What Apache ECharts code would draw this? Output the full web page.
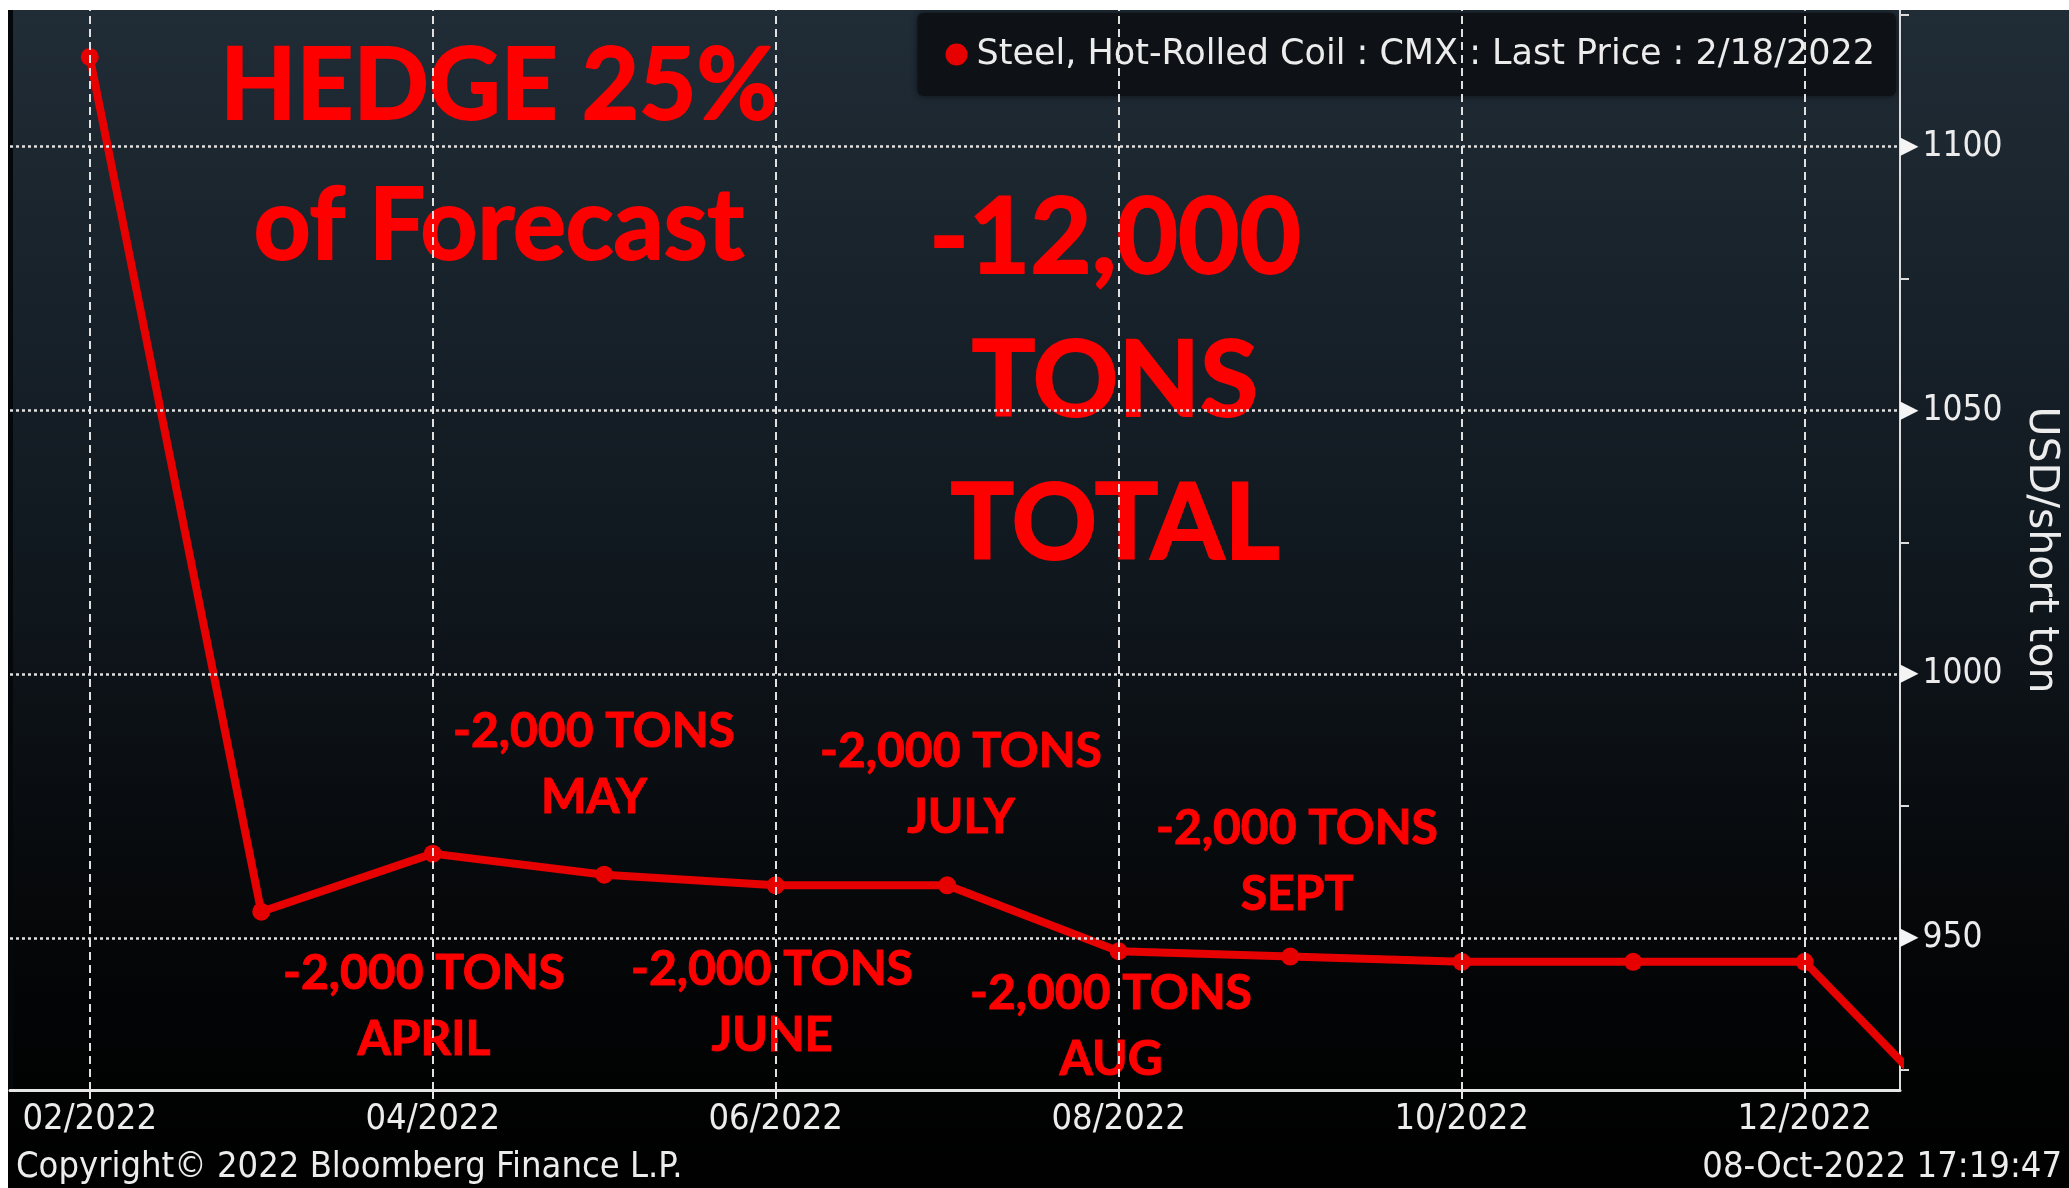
<!DOCTYPE html>
<html>
<head>
<meta charset="utf-8">
<script src="https://cdn.jsdelivr.net/npm/echarts@6/dist/echarts.min.js"></script>
<style>
html,body{margin:0;padding:0;background:#fff;overflow:hidden;}
#chart{position:absolute;left:8px;top:10px;width:2061px;height:1178px;}
</style>
</head>
<body>
<div id="chart"></div>
<script>
// contract months and last prices (USD/short ton)
const months = ['02/2022','03/2022','04/2022','05/2022','06/2022','07/2022','08/2022','09/2022','10/2022','11/2022','12/2022','01/2023'];
const prices = [1117, 955, 966, 962, 960, 960, 947.5, 946.5, 945.5, 945.5, 945.5, 912];
const xTicks = [0, 2, 4, 6, 8, 10];
const yTicks = [950, 1000, 1050, 1100];
const yMinorTicks = [925, 975, 1025, 1075, 1125];
const seriesName = 'Steel, Hot-Rolled Coil : CMX : Last Price : 2/18/2022';

const axisFont = '"DejaVu Sans Condensed", "Liberation Sans Narrow", sans-serif';
const wideFont = '"DejaVu Sans", sans-serif';
const noteFont = 'Lato, "Open Sans", sans-serif';
const red = '#ff0000';

const chart = echarts.init(document.getElementById('chart'));

function note(text, x, y, size, lh, sw){
    return {
        type:'text', z:0, silent:true,
        style:{
            text:text, x:x, y:y, fill:red,
            stroke:red, lineWidth:sw,
            font:'bold ' + size + 'px ' + noteFont,
            lineHeight:lh, textAlign:'center', textVerticalAlign:'middle'
        }
    };
}

const option = {
    animation:false,
    backgroundColor:{
        type:'linear', x:0, y:0, x2:0, y2:1,
        colorStops:[
            {offset:0, color:'#202c36'},
            {offset:0.45, color:'#111920'},
            {offset:0.82, color:'#040506'},
            {offset:1, color:'#000000'}
        ]
    },
    grid:{left:2, top:0, right:169, bottom:98, containLabel:false, outerBoundsMode:'none'},
    legend:{
        data:[seriesName],
        right:173, top:3, z:0,
        icon:'circle', itemWidth:30, itemHeight:22,
        padding:[24, 21, 24, 28],
        backgroundColor:'#0e1216',
        borderRadius:6,
        shadowColor:'rgba(0,0,0,0.6)', shadowBlur:6,
        textStyle:{color:'#ececec', fontSize:35, fontFamily:wideFont}
    },
    xAxis:{
        type:'value',
        min:-0.465, max:10.556,
        axisLine:{onZero:false, lineStyle:{color:'#e6e6e6', width:3}},
        axisTick:{customValues:xTicks, length:9, lineStyle:{color:'#e6e6e6', width:2}},
        axisLabel:{
            customValues:xTicks,
            formatter:function(v){ return months[Math.round(v)]; },
            color:'#ececec', fontSize:36, fontFamily:axisFont, margin:12
        },
        splitLine:{show:false}
    },
    yAxis:{
        type:'value',
        position:'right',
        min:921.2, max:1125.9,
        name:'USD/short ton',
        nameLocation:'middle', nameRotate:-90, nameGap:120,
        nameTextStyle:{color:'#ececec', fontSize:41, fontFamily:wideFont},
        axisLine:{show:true, onZero:false, lineStyle:{color:'#dcdcdc', width:2}},
        axisTick:{customValues:yMinorTicks, length:9, lineStyle:{color:'#dcdcdc', width:2}},
        axisLabel:{
            customValues:yTicks,
            margin:0,
            formatter:function(v){ return '{t|▶}{v|' + v + '}'; },
            rich:{
                t:{color:'#f4f4f4', fontSize:24, fontFamily:'DejaVu Sans', padding:[0,4,0,0]},
                v:{color:'#ececec', fontSize:35, fontFamily:axisFont}
            }
        },
        splitLine:{show:false}
    },
    series:[
        {
            // grid lines, under the price line and above the notes
            type:'line', z:1, silent:true, data:[],
            markLine:{
                silent:true, symbol:['none','none'], label:{show:false},
                data:xTicks.map(function(i){ return {xAxis:i, lineStyle:{color:'#e0e0e0', width:2, type:[8,5]}}; })
                    .concat(yTicks.map(function(v){ return {yAxis:v, lineStyle:{color:'#e0e0e0', width:2.5, type:[3,3]}}; }))
            }
        },
        {
            name:seriesName,
            type:'line', z:3,
            data:prices.map(function(p, i){ return [i, p]; }),
            symbol:'circle', symbolSize:18,
            itemStyle:{color:'#e60000'},
            lineStyle:{color:'#e60000', width:8}
        }
    ],
    graphic:[
        {type:'rect', z:0, silent:true, shape:{x:0, y:0, width:5, height:1080}, style:{fill:'#05080a'}},
        note('HEDGE 25%\nof Forecast', 491, 147, 99, 140, 2),
        note('-12,000\nTONS\nTOTAL', 1107, 372, 106, 143, 2),
        note('-2,000 TONS\nMAY', 586, 755, 48, 66, 1),
        note('-2,000 TONS\nJULY', 953, 775, 48, 66, 1),
        note('-2,000 TONS\nSEPT', 1289, 852, 48, 66, 1),
        note('-2,000 TONS\nAPRIL', 416, 997, 48, 66, 1),
        note('-2,000 TONS\nJUNE', 764, 993, 48, 66, 1),
        note('-2,000 TONS\nAUG', 1103, 1017, 48, 66, 1),
        {type:'text', silent:true, style:{text:'Copyright\u00a9 2022 Bloomberg Finance L.P.', x:8, y:1158, fill:'#ececec', font:'36px ' + axisFont, textVerticalAlign:'middle'}},
        {type:'text', silent:true, style:{text:'08-Oct-2022 17:19:47', x:2054, y:1158, fill:'#ececec', font:'36px ' + axisFont, textAlign:'right', textVerticalAlign:'middle'}}
    ]
};
chart.setOption(option);
</script>
</body>
</html>
